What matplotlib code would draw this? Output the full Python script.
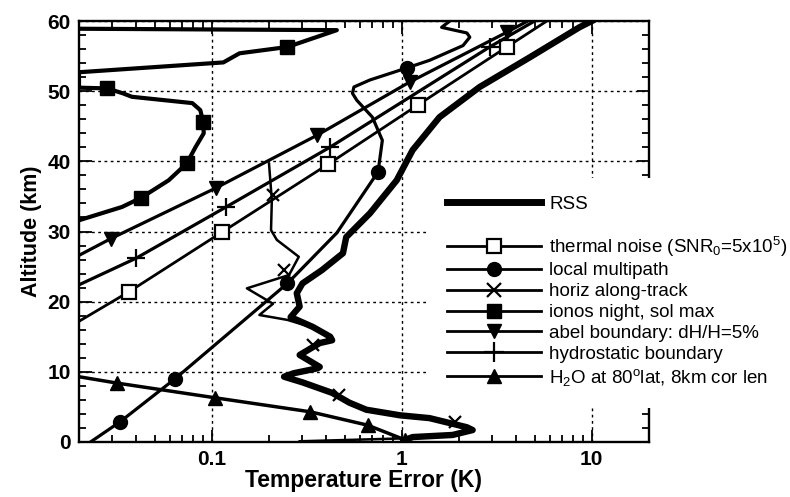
import matplotlib
matplotlib.use("Agg")
import matplotlib.pyplot as plt
from matplotlib.lines import Line2D
from matplotlib.patches import Rectangle
from matplotlib.ticker import FixedLocator, NullFormatter

plt.rcParams['font.family'] = ['Liberation Sans', 'DejaVu Sans']
plt.rcParams['mathtext.default'] = 'regular'

# --- data (x = temperature error K, y = altitude km) ---
rss_x = [1.02, 1.14, 1.85, 2.36, 2.2, 1.4, 0.98, 0.65, 0.53, 0.43, 0.30, 0.24, 0.27, 0.36,
         0.37, 0.29, 0.37, 0.43, 0.42, 0.34, 0.26, 0.29, 0.28, 0.30, 0.38, 0.49, 0.51, 0.68,
         0.94, 1.14, 1.58, 2.57, 4.7, 8.6, 10.0]
rss_y = [0.2, 0.7, 1.0, 1.7, 2.1, 3.4, 3.8, 4.6, 5.6, 7.0, 8.5, 9.3, 9.8, 10.5,
         10.7, 12.4, 14.1, 14.5, 15.0, 16.4, 17.8, 19.3, 21.2, 22.6, 24.5, 26.9, 29.2, 32.6,
         37.3, 41.6, 46.3, 50.6, 54.8, 59.1, 60.0]

thermal_x = [0.02, 0.0366, 0.113, 0.41, 1.21, 3.57, 5.8]
thermal_y = [17.2, 21.4, 29.9, 39.6, 48.0, 56.3, 60.0]
thermal_mx = [0.0366, 0.113, 0.41, 1.21, 3.57]
thermal_my = [21.4, 29.9, 39.6, 48.0, 56.3]

multi_x = [0.023, 0.0328, 0.064, 0.25, 0.455, 0.75, 0.79, 0.70, 0.58, 0.55, 0.56, 0.68,
           1.06, 1.4, 2.1, 2.28, 2.2, 1.62, 1.79]
multi_y = [0.0, 2.85, 9.0, 22.6, 29.8, 38.5, 43.0, 46.3, 48.7, 49.7, 50.6, 51.6,
           53.3, 54.4, 56.5, 57.7, 58.3, 59.1, 60.0]
multi_mx = [0.0328, 0.064, 0.25, 0.75, 1.06]
multi_my = [2.85, 9.0, 22.6, 38.5, 53.3]

horiz_x = [0.29, 0.98, 1.85, 2.36, 2.2, 1.4, 0.98, 0.65, 0.53, 0.43, 0.30, 0.24, 0.27, 0.36,
           0.29, 0.37, 0.43, 0.37, 0.25, 0.178, 0.21, 0.153, 0.255, 0.287, 0.22, 0.205,
           0.207, 0.20]
horiz_y = [0.1, 0.5, 1.0, 1.7, 2.1, 3.4, 3.8, 4.6, 5.6, 7.0, 8.7, 9.3, 9.8, 10.5,
           12.4, 14.1, 14.5, 16.0, 17.4, 18.1, 19.7, 21.9, 23.8, 26.4, 28.8, 30.2,
           34.5, 39.7]
horiz_mx = [1.9, 0.47, 0.34, 0.24, 0.21]
horiz_my = [2.85, 6.7, 13.8, 24.5, 35.2]

ionos_x = [0.02, 0.0337, 0.0424, 0.0593, 0.0738, 0.082, 0.0907, 0.09, 0.087, 0.079, 0.038,
           0.034, 0.0281, 0.02, 0.02, 0.115, 0.14, 0.25, 0.455, 0.02]
ionos_y = [31.6, 33.5, 34.8, 37.3, 39.7, 42.0, 44.0, 45.6, 47.3, 48.3, 49.2,
           49.7, 50.4, 50.5, 52.7, 54.1, 55.4, 56.3, 58.7, 58.9]
ionos_mx = [0.0424, 0.0738, 0.09, 0.0281, 0.25]
ionos_my = [34.8, 39.7, 45.6, 50.4, 56.3]

abel_x = [0.02, 0.0295, 0.105, 0.357, 1.1, 3.57, 4.6]
abel_y = [26.6, 29.0, 36.2, 43.7, 51.3, 58.4, 60.0]
abel_mx = [0.0295, 0.105, 0.357, 1.1, 3.57]
abel_my = [29.0, 36.2, 43.7, 51.3, 58.4]

hydro_x = [0.02, 0.04, 0.119, 0.418, 2.9, 5.0]
hydro_y = [22.4, 26.2, 33.5, 42.0, 56.3, 60.0]
hydro_mx = [0.04, 0.119, 0.418, 2.9]
hydro_my = [26.2, 33.5, 42.0, 56.3]

h2o_x = [0.02, 0.0316, 0.104, 0.33, 0.66, 1.04]
h2o_y = [9.3, 8.4, 6.3, 4.3, 2.4, 0.3]
h2o_mx = [0.0316, 0.104, 0.33, 0.66, 1.04]
h2o_my = [8.4, 6.3, 4.3, 2.4, 0.3]

labels = ["thermal noise (SNR$_0$=5x10$^5$)", "local multipath", "horiz along-track",
          "ionos night, sol max", "abel boundary: dH/H=5%", "hydrostatic boundary",
          "H$_2$O at 80$^o$lat, 8km cor len"]

fig = plt.figure(figsize=(7.9, 4.97), dpi=100)
ax = fig.add_axes([0.1, 0.1107, 0.7215, 0.847])

k = 'black'
ax.plot(rss_x, rss_y, color=k, lw=4.6, solid_joinstyle='round')
ax.plot(thermal_x, thermal_y, color=k, lw=2.0)
ax.plot(thermal_mx, thermal_my, ls='none', marker='s', ms=10, mfc='white', mec=k, mew=1.6)
ax.plot(multi_x, multi_y, color=k, lw=2.3)
ax.plot(multi_mx, multi_my, ls='none', marker='o', ms=10, color=k)
ax.plot(horiz_x, horiz_y, color=k, lw=1.8)
ax.plot(horiz_mx, horiz_my, ls='none', marker='x', ms=9, mew=1.6, color=k)
ax.plot(ionos_x, ionos_y, color=k, lw=3.0)
ax.plot(ionos_mx, ionos_my, ls='none', marker='s', ms=10.5, color=k)
ax.plot(abel_x, abel_y, color=k, lw=2.3)
ax.plot(abel_mx, abel_my, ls='none', marker='v', ms=10.5, color=k)
ax.plot(hydro_x, hydro_y, color=k, lw=2.3)
ax.plot(hydro_mx, hydro_my, ls='none', marker='+', ms=13, mew=1.6, color=k)
ax.plot(h2o_x, h2o_y, color=k, lw=2.5)
ax.plot(h2o_mx, h2o_my, ls='none', marker='^', ms=10.5, color=k)

ax.set_xscale('log')
ax.set_xlim(0.02, 20)
ax.set_ylim(0, 60)
ax.set_xticks([0.1, 1, 10])
ax.set_xticklabels(['0.1', '1', '10'])
ax.xaxis.set_minor_locator(FixedLocator([m * d for d in (0.01, 0.1, 1, 10) for m in range(2, 10)]))
ax.xaxis.set_minor_formatter(NullFormatter())
ax.set_yticks(range(0, 61, 10))
ax.set_yticks(range(0, 61, 2), minor=True)
ax.tick_params(which='both', direction='in', top=True, right=True, labelsize=15, width=1.3)
ax.tick_params(which='major', length=9, pad=6)
ax.tick_params(which='minor', length=5)
for lab in ax.get_xticklabels() + ax.get_yticklabels():
    lab.set_fontweight('bold')
for s in ax.spines.values():
    s.set_linewidth(1.7)
ax.grid(True, which='major', color=k, lw=1.0, linestyle=(0, (2, 2.5)))
ax.set_xlabel('Temperature Error (K)', fontsize=16.5, fontweight='bold', labelpad=0)
ax.set_ylabel('Altitude (km)', fontsize=15.5, fontweight='bold', labelpad=4)

# white box behind the legend, covering part of the frame
ax.add_patch(Rectangle((0.6105, 0.0808), 0.628, 0.546, transform=ax.transAxes,
                       facecolor='white', edgecolor='none', zorder=4, clip_on=False))

h_rss = [Line2D([], [], color=k, lw=5.0)]
handles = [
    Line2D([], [], color=k, lw=2.0, marker='s', ms=10, mfc='white', mec=k, mew=1.6),
    Line2D([], [], color=k, lw=2.0, marker='o', ms=10),
    Line2D([], [], color=k, lw=2.0, marker='x', ms=10, mew=1.6),
    Line2D([], [], color=k, lw=2.0, marker='s', ms=10),
    Line2D([], [], color=k, lw=2.0, marker='v', ms=10.5),
    Line2D([], [], color=k, lw=2.0, marker='+', ms=14, mew=1.6),
    Line2D([], [], color=k, lw=2.0, marker='^', ms=10.5),
]
lx = 0.646
leg1 = ax.legend(h_rss, ['RSS'], loc='center left', bbox_to_anchor=(lx, 0.565),
                 frameon=False, fontsize=13.5, handlelength=5.0, handletextpad=0.45,
                 borderpad=0, borderaxespad=0)
leg1.set_zorder(6)
ax.add_artist(leg1)
leg2 = ax.legend(handles, labels, loc='upper left', bbox_to_anchor=(lx, 0.493),
                 frameon=False, fontsize=13.5, handlelength=5.0, handletextpad=0.45,
                 labelspacing=0.2, borderpad=0, borderaxespad=0)
leg2.set_zorder(6)

fig.savefig('out.png', dpi=100)
